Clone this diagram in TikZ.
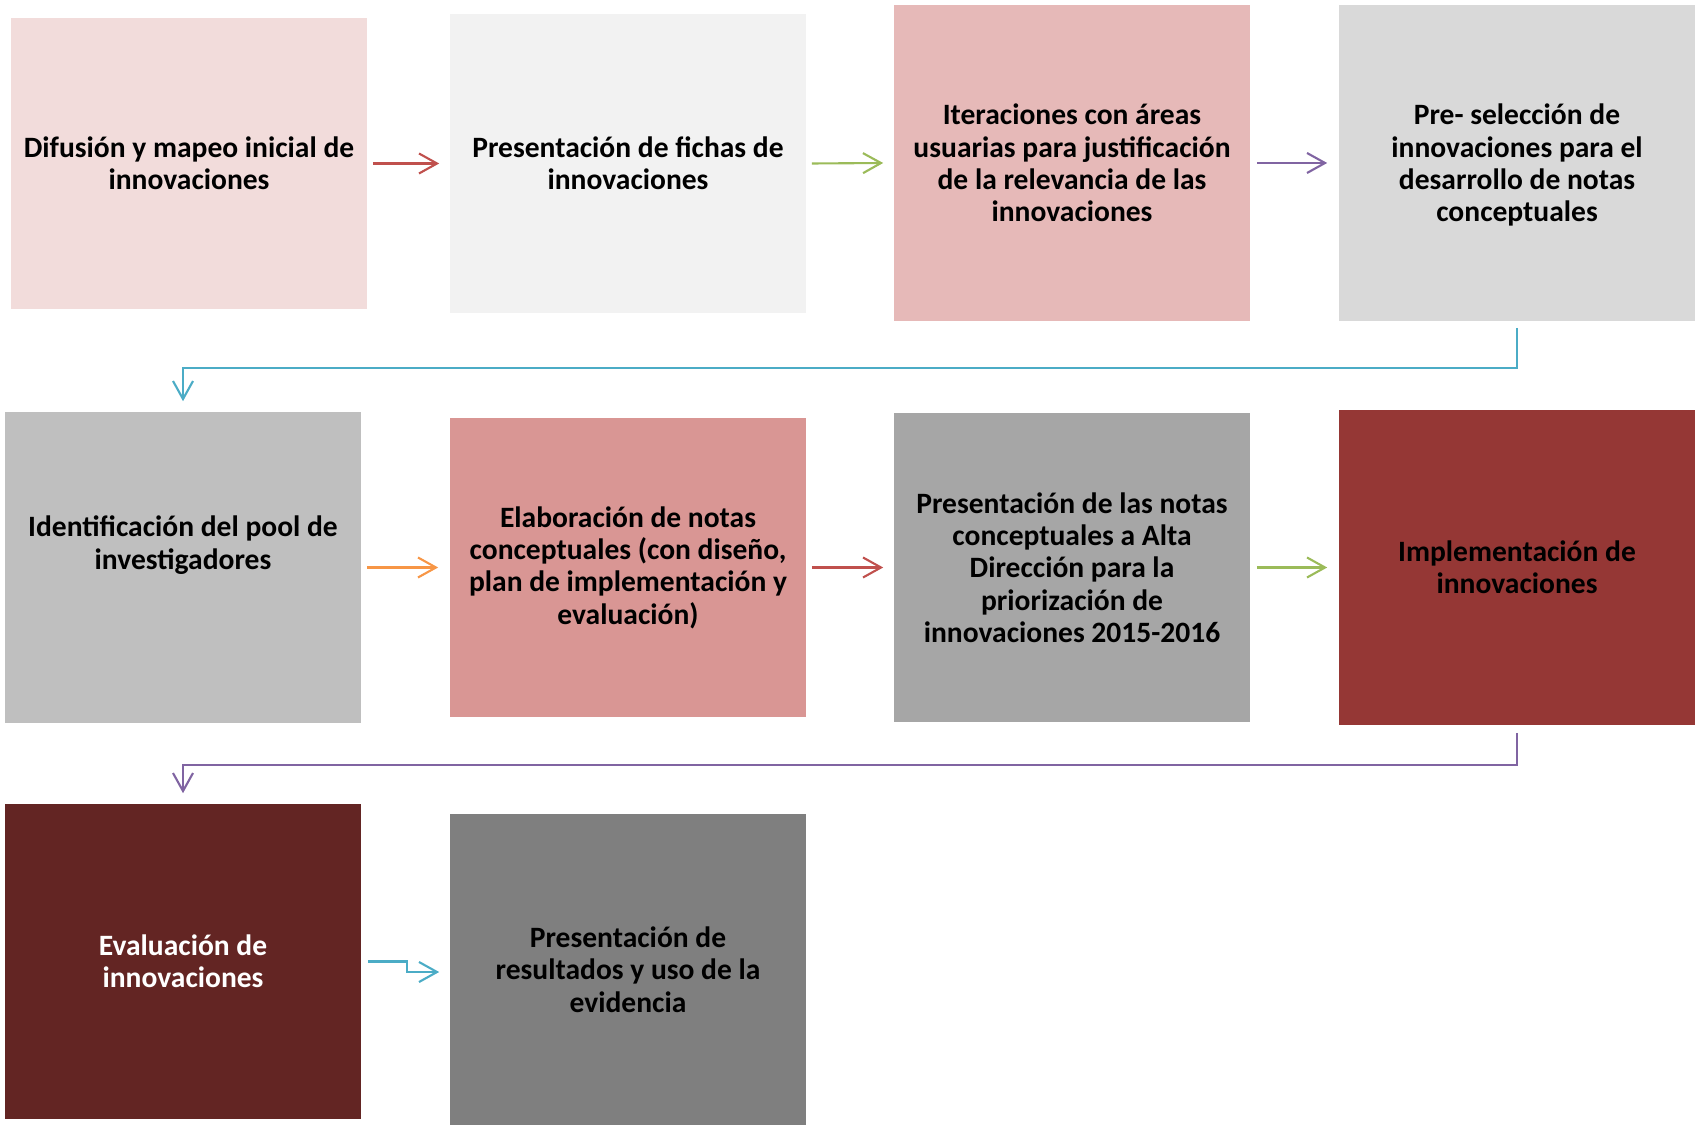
\documentclass[tikz,border=0pt]{standalone}
\usepackage{fontspec}
\setmainfont{Carlito}
\usetikzlibrary{arrows.meta}

\definecolor{rosaclaro}{HTML}{F2DCDB}
\definecolor{grisclaro}{HTML}{F2F2F2}
\definecolor{rosamedio}{HTML}{E6B9B8}
\definecolor{grismedio}{HTML}{D9D9D9}
\definecolor{grisuno}{HTML}{BFBFBF}
\definecolor{rosaoscuro}{HTML}{D99694}
\definecolor{grisdos}{HTML}{A6A6A6}
\definecolor{granate}{HTML}{953735}
\definecolor{vino}{HTML}{632523}
\definecolor{grisoscuro}{HTML}{7F7F7F}
\definecolor{flrojo}{HTML}{C0504D}
\definecolor{flverde}{HTML}{9BBB59}
\definecolor{flmorado}{HTML}{8064A2}
\definecolor{flcian}{HTML}{4BACC6}
\definecolor{flnaranja}{HTML}{F79646}

\begin{document}
\begin{tikzpicture}[x=0.01cm,y=-0.01cm,
  font=\fontsize{8.4}{9.2}\selectfont\bfseries,
  box/.style={minimum width=3.56cm,align=center,inner sep=0pt},
  arr/.style={-{Straight Barb[length=0.18cm,width=0.2cm]},line width=0.6pt}]
\useasboundingbox (0,0) rectangle (1700,1125);

% first row
\node[box,fill=rosaclaro,minimum height=2.91cm] (dif) at (189,163.5)
  {Difusión y mapeo inicial de\\innovaciones};
\node[box,fill=grisclaro,minimum height=2.99cm] (fichas) at (628,163.5)
  {Presentación de fichas de\\innovaciones};
\node[box,fill=rosamedio,minimum height=3.16cm] (iter) at (1072,163)
  {Iteraciones con áreas\\usuarias para justificación\\de la relevancia de las\\innovaciones};
\node[box,fill=grismedio,minimum height=3.16cm,text depth=0cm] (presel) at (1517,163)
  {Pre- selección de\\innovaciones para el\\desarrollo de notas\\conceptuales};

% second row
\node[box,fill=grisuno,minimum height=3.11cm,text depth=.5cm] (pool) at (183,567.5)
  {Identificación del pool de\\investigadores};
\node[box,fill=rosaoscuro,minimum height=2.99cm] (elab) at (628,567.5)
  {Elaboración de notas\\conceptuales (con diseño,\\plan de implementación y\\evaluación)};
\node[box,fill=grisdos,minimum height=3.09cm] (alta) at (1072,567.5)
  {Presentación de las notas\\conceptuales a Alta\\Dirección para la\\priorización de\\innovaciones 2015-2016};
\node[box,fill=granate,minimum height=3.15cm] (impl) at (1517,567.5)
  {Implementación de\\innovaciones};

% third row
\node[box,fill=vino,text=white,minimum height=3.15cm] (eval) at (183,961.5)
  {Evaluación de\\innovaciones};
\node[box,fill=grisoscuro,minimum height=3.11cm] (res) at (628,969.5)
  {Presentación de\\resultados y uso de la\\evidencia};

% arrows
\draw[arr,flrojo] ([xshift=.05cm]dif.east) -- ([xshift=-.1cm]fichas.west);
\draw[arr,flverde] ([xshift=.05cm]fichas.east) -- ([xshift=-.1cm]iter.west);
\draw[arr,flmorado] ([xshift=.06cm]iter.east) -- ([xshift=-.11cm]presel.west);
\draw[arr,flcian] ([yshift=-.06cm]presel.south) -- ++(0,40) -| ([yshift=.1cm]pool.north);
\draw[arr,flnaranja] ([xshift=.05cm]pool.east) -- ([xshift=-.11cm]elab.west);
\draw[arr,flrojo] ([xshift=.05cm]elab.east) -- ([xshift=-.1cm]alta.west);
\draw[arr,flverde] ([xshift=.06cm]alta.east) -- ([xshift=-.11cm]impl.west);
\draw[arr,flmorado] ([yshift=-.07cm]impl.south) -- ++(0,32) -| ([yshift=.1cm]eval.north);
\draw[arr,flcian] ([xshift=.06cm]eval.east) -- ++(39,0) |- ([xshift=-.1cm,yshift=-.025cm]res.west);
\end{tikzpicture}
\end{document}
